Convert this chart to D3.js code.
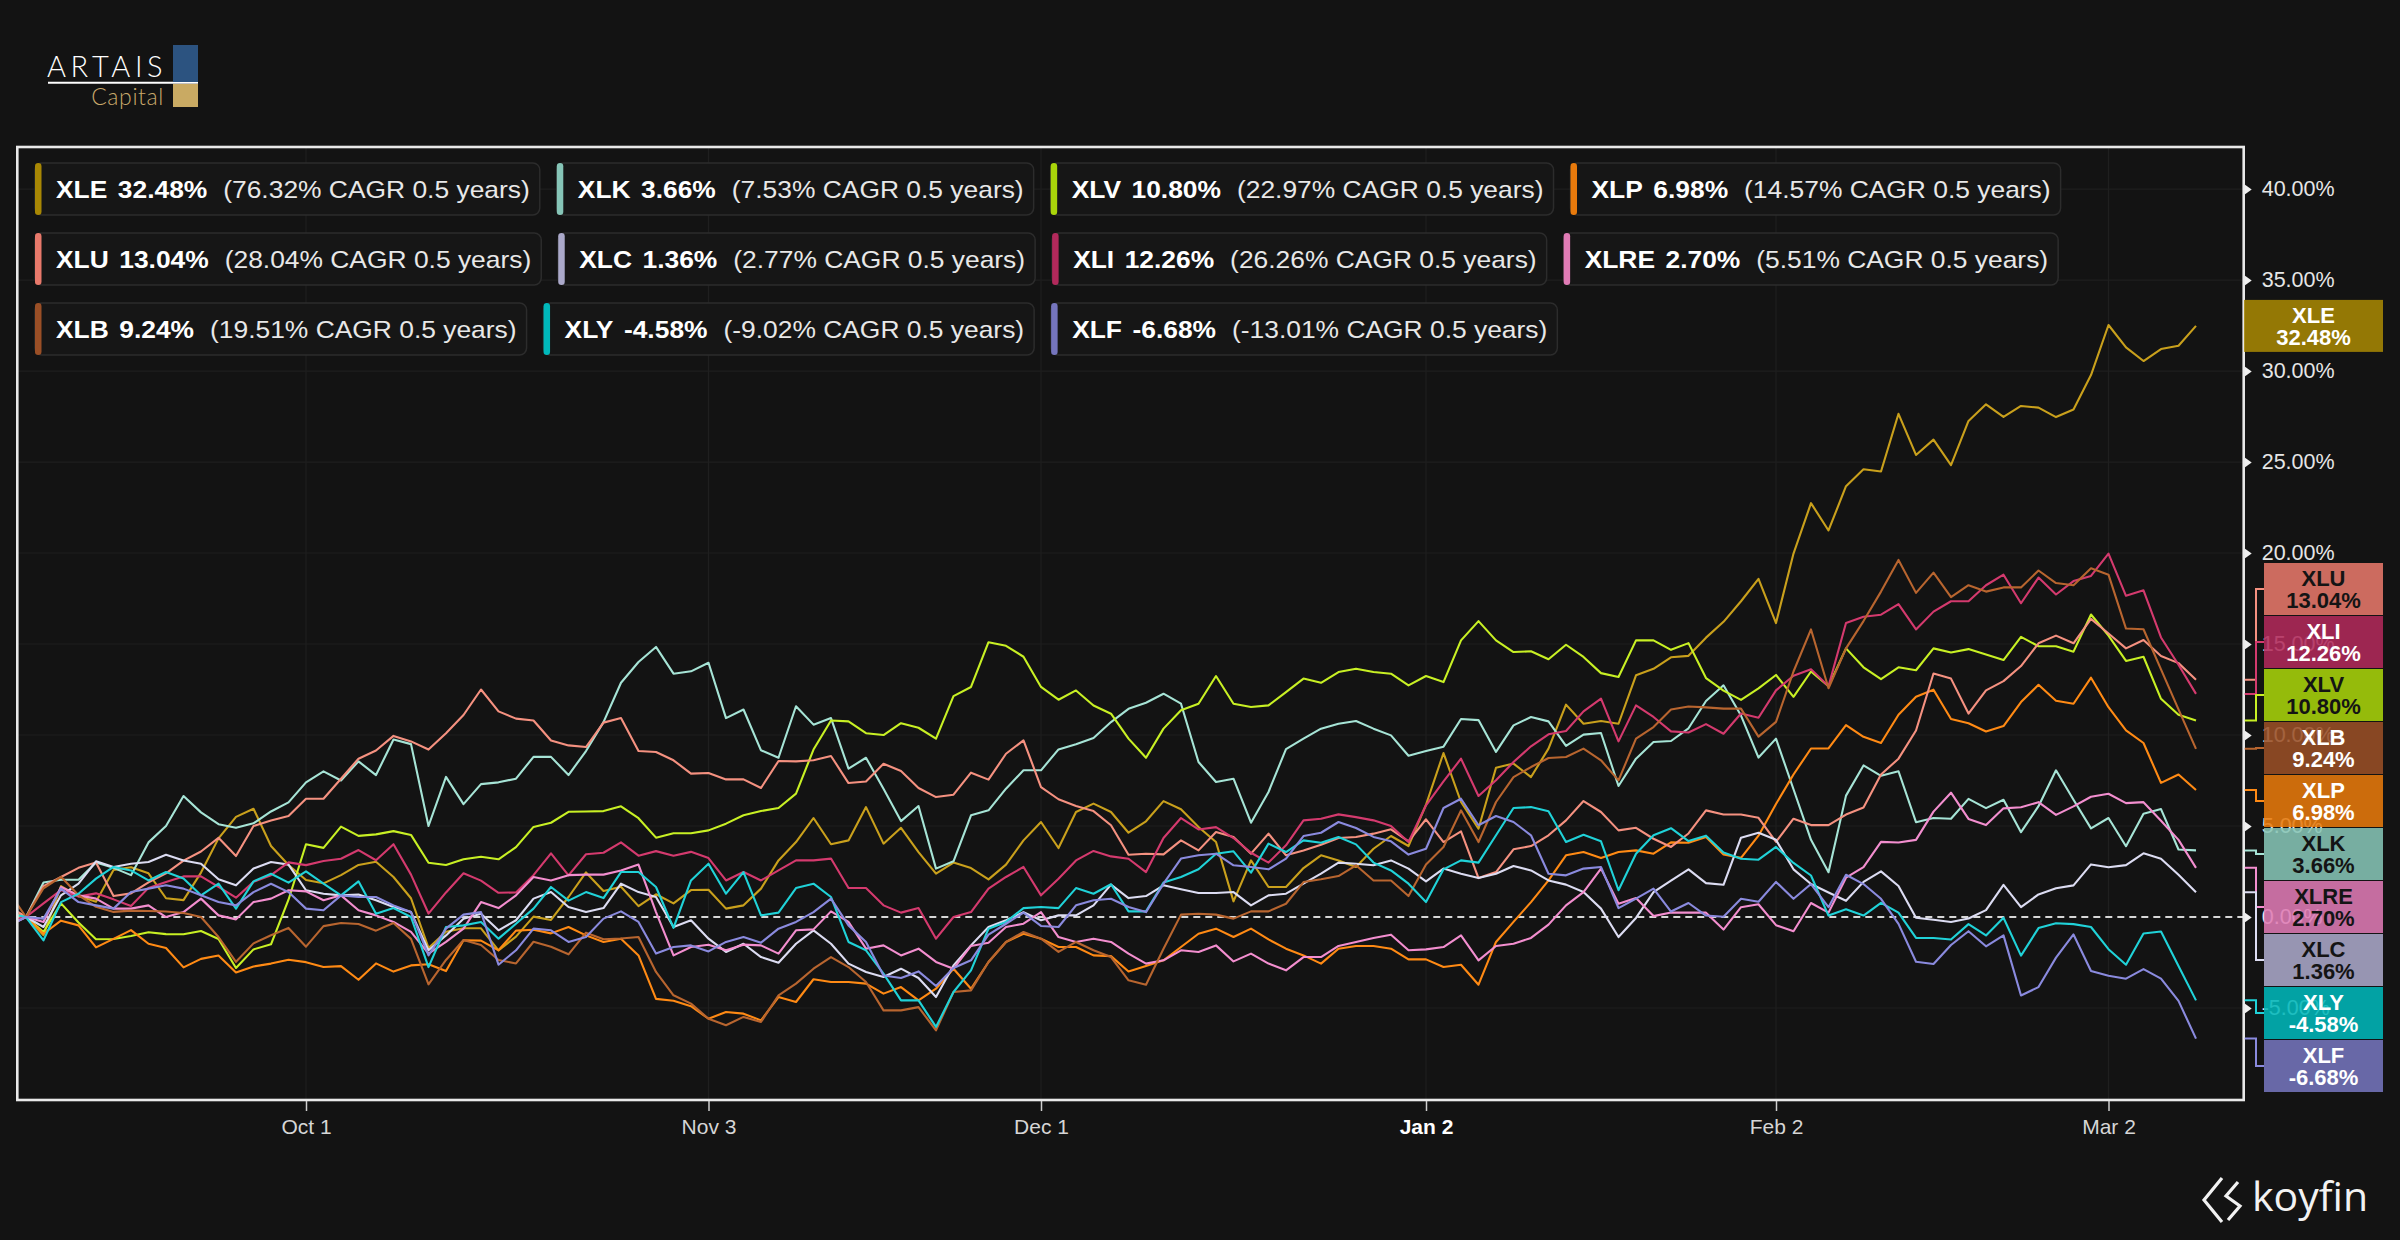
<!DOCTYPE html>
<html><head><meta charset="utf-8">
<script src="https://cdn.jsdelivr.net/npm/d3@7"></script>
<style>html,body{margin:0;padding:0;background:#131313;}svg{display:block;}</style>
</head><body>
<svg id="chart" width="2400" height="1240"></svg>
<script>
// ---------------- DATA ----------------
const tickers = ["XLE","XLK","XLV","XLP","XLU","XLC","XLI","XLRE","XLB","XLY","XLF"];
const totalReturn = [32.48, 3.66, 10.80, 6.98, 13.04, 1.36, 12.26, 2.70, 9.24, -4.58, -6.68];
const cagr = [76.32, 7.53, 22.97, 14.57, 28.04, 2.77, 26.26, 5.51, 19.51, -9.02, -13.01];
const periodYears = 0.5;
const xTickLabels = ["Oct 1","Nov 3","Dec 1","Jan 2","Feb 2","Mar 2"];
const xTickIndex = [17, 40, 59, 81, 101, 120];
const yTickValues = [-5, 0, 5, 10, 15, 20, 25, 30, 35, 40];

const XLE = [0.3,0,-1.0,1.7,1.15,0.84,2.58,2.73,2.4,1.03,
0.93,2.44,4.32,5.5,5.95,3.9,2.86,2.03,1.85,2.3,
2.86,3.04,2.2,1.03,-1.7,-0.81,-0.62,-0.62,-1.83,-1.08,
0.02,-0.16,1.1,2.45,1.43,1.66,0.6,1.25,0.75,1.48,
1.5,0.46,0.64,1.56,3.11,4.12,5.44,4.0,4.21,6.04,
4.03,4.9,3.57,2.38,2.99,2.69,2.07,2.88,4.21,5.22,
3.79,5.77,6.23,5.77,4.63,5.26,6.37,5.92,4.95,4.12,
0.86,3.11,1.65,1.65,2.69,3.39,3.11,2.75,3.75,4.45,
3.9,6.17,9.01,6.32,4.85,8.2,8.43,7.69,9.25,11.67,
10.62,10.77,10.62,13.28,13.64,14.27,14.35,15.35,16.22,17.35,
18.58,16.15,19.97,22.74,21.24,23.67,24.6,24.48,27.65,25.39,
26.23,24.83,27.26,28.17,27.48,28.08,27.99,27.47,27.89,29.78,
32.53,31.3,30.55,31.21,31.39,32.48];
const XLK = [0.2,0,1.9,2.05,2.05,3.0,2.7,2.3,4.1,5.0,
6.65,5.75,5.1,4.9,5.15,5.8,6.3,7.4,8.0,7.5,
8.55,7.8,9.75,9.5,5.0,7.7,6.2,7.3,7.4,7.6,
8.8,8.8,7.8,9.12,10.71,12.87,14.01,14.84,13.37,13.5,
13.97,10.93,11.4,9.16,8.75,11.58,10.57,10.93,8.15,8.75,
7.05,5.27,6.1,2.66,3.06,5.59,5.86,7.05,8.06,8.06,
9.21,9.49,9.84,10.71,11.44,11.77,12.27,11.72,8.52,7.42,
7.6,5.18,6.87,9.23,9.8,10.35,10.62,10.77,10.35,9.98,
8.86,9.12,9.36,10.88,10.82,9.07,10.53,10.99,10.75,9.4,
10.02,10.11,7.2,8.7,9.62,9.67,10.37,11.87,12.73,11.07,
8.76,9.8,7.02,4.24,2.46,6.67,8.33,7.76,8.01,5.21,
5.44,5.4,6.49,5.98,6.44,4.66,6.09,8.06,6.44,4.87,
5.44,3.89,5.67,5.93,3.71,3.66];
const XLV = [0.1,0,-0.82,0.75,-0.3,-1.22,-1.21,-1.04,-0.84,-0.94,
-0.95,-0.77,-1.21,-2.8,-1.78,-1.5,0.95,4.0,3.8,4.97,
4.46,4.54,4.72,4.51,2.98,2.86,3.17,3.31,3.17,3.84,
4.95,5.18,5.78,5.8,5.82,6.08,5.43,4.36,4.6,4.6,
4.76,5.13,5.59,5.82,5.99,6.78,9.2,10.8,10.75,10.1,
10.0,10.65,10.4,9.8,12.14,12.64,15.1,14.9,14.3,12.64,
11.94,12.45,11.62,11.17,9.8,8.75,10.35,11.36,11.72,13.24,
11.72,11.54,11.63,12.36,13.1,12.87,13.46,13.64,13.46,13.37,
12.73,13.24,12.91,15.2,16.26,15.2,14.56,14.6,14.16,14.96,
14.29,13.4,13.19,15.2,15.2,14.68,15.05,13.13,12.44,11.93,
12.56,13.3,12.1,13.49,12.68,14.76,13.72,13.07,13.72,13.56,
14.76,14.53,14.72,14.42,14.12,15.39,14.88,14.88,14.58,16.62,
15.46,14.07,14.3,11.99,11.11,10.8];
const XLP = [0.3,0,-0.92,-0.2,-0.46,-1.67,-1.2,-0.72,-1.47,-1.7,
-2.77,-2.3,-2.12,-3.05,-2.72,-2.56,-2.35,-2.48,-2.75,-2.7,
-3.45,-2.55,-3.0,-2.66,-2.6,-2.97,-1.28,-1.3,-1.83,-0.75,
-0.7,-0.9,-0.55,-1.01,-1.37,-1.19,-2.11,-4.5,-4.6,-4.9,
-5.59,-5.22,-5.31,-5.68,-4.4,-4.67,-3.42,-3.57,-3.57,-3.66,
-4.21,-3.85,-4.58,-3.94,-2.84,-3.94,-2.47,-1.37,-0.92,-1.19,
-1.65,-1.65,-2.11,-2.15,-2.99,-2.69,-2.38,-1.65,-0.92,-0.64,
-1.1,-0.64,-1.23,-1.74,-2.11,-2.56,-1.74,-1.59,-1.59,-1.74,
-2.33,-2.33,-2.75,-2.62,-3.72,-1.37,-0.27,0.82,2.01,3.39,
3.57,3.24,3.57,3.66,3.48,4.1,4.08,4.4,3.43,3.25,
4.47,6.21,7.83,9.26,9.26,10.55,9.9,9.56,11.11,12.1,
12.49,10.88,10.65,10.19,10.49,11.81,12.76,11.88,11.72,13.15,
11.53,10.26,9.56,7.37,7.83,6.98];
const XLU = [0.6,0,1.7,2.2,2.7,3.0,1.15,1.3,1.9,2.4,
3.1,3.6,4.35,3.35,5.0,5.3,5.55,6.5,6.5,7.6,
8.7,9.15,9.95,9.65,9.2,10.1,11.1,12.5,11.3,10.9,
10.8,9.7,9.43,9.34,10.68,10.93,9.12,9.07,8.61,7.88,
7.91,7.56,7.56,7.09,8.57,8.55,8.61,8.85,7.36,7.45,
8.42,8.02,7.09,6.59,6.72,7.93,7.55,8.97,9.71,7.14,
6.47,6.1,5.82,5.04,3.42,3.48,3.44,4.21,3.66,4.67,
4.4,3.48,4.58,3.39,3.66,3.97,4.34,4.4,4.58,4.82,
4.16,5.37,4.12,4.71,2.14,2.47,3.72,3.9,4.49,5.31,
6.37,5.77,4.76,4.9,4.3,3.85,4.59,5.86,5.63,5.63,
5.45,4.13,5.4,5.05,5.05,5.63,6.02,7.83,8.7,10.25,
13.38,13.1,11.18,12.45,12.96,13.79,15.04,15.46,15.04,16.38,
15.58,14.76,15.22,14.34,13.95,13.04];
const XLC = [-0.4,0,-0.55,1.19,1.83,3.06,2.75,2.93,3.02,3.42,
3.11,2.93,2.07,1.74,2.66,3.02,2.88,1.47,1.28,1.19,
1.23,0.92,0.55,0.27,-1.83,-1.01,-0.09,0.18,-0.73,-0.18,
1.01,1.37,0.55,0.27,0.49,1.83,1.37,1.1,-0.55,-0.18,
-1.19,-1.92,-1.47,-2.2,-2.51,-1.47,-0.73,-1.47,-2.56,-3.02,
-3.3,-2.84,-3.35,-4.4,-2.66,-1.56,-0.55,-0.18,0.27,-0.18,
0.09,0.09,0.64,1.78,1.04,1.15,1.74,1.52,1.32,1.32,
1.37,0.64,1.19,1.28,1.83,2.38,2.99,2.93,2.84,3.11,
2.66,1.96,2.66,2.38,2.14,2.38,2.8,2.56,2.01,1.78,
1.37,0.46,-1.1,-0.05,1.37,2.0,2.62,1.86,1.77,4.36,
4.63,4.24,2.62,1.81,1.35,0.89,1.93,2.51,1.7,-0.04,
-0.15,-0.27,-0.08,0.38,1.77,0.54,1.24,1.58,1.74,2.89,
2.73,2.85,3.5,3.2,2.32,1.36];
const XLI = [-0.2,0,0.75,1.48,1.12,1.3,0.97,0.6,1.6,1.93,
2.23,2.23,1.66,1.06,1.93,2.3,3.0,2.85,3.08,3.2,
3.68,3.12,4.0,2.33,0.19,1.35,2.4,2.0,1.33,1.35,
2.3,3.5,2.29,3.45,3.53,4.1,3.37,3.62,3.37,3.58,
3.24,2.01,2.47,2.01,2.56,3.11,3.11,3.21,1.59,1.59,
0.64,0.24,0.49,-1.19,0,0.27,1.56,2.2,2.75,1.19,
2.1,3.11,3.63,3.33,3.2,2.47,4.34,5.44,4.81,4.94,
4.34,3.53,2.99,3.94,5.31,5.4,5.64,5.49,5.31,5.0,
4.12,6.14,7.45,8.7,6.65,7.51,8.52,9.38,10.04,10.22,
11.3,12.0,9.65,11.63,10.99,10.2,10.14,10.6,10.07,11.18,
10.95,12.45,13.26,13.61,12.68,16.15,16.5,16.61,17.19,15.8,
16.78,17.35,17.35,18.23,18.81,17.24,18.65,17.72,18.46,18.74,
19.97,17.65,17.95,15.36,13.86,12.26];
const XLRE = [-0.5,0,-0.27,1.65,1.19,1.01,0.46,0.46,0.64,0,
0.27,1.01,0.09,-0.13,0.82,1.01,1.47,1.41,0.92,1.19,
0.37,0.09,-0.27,-0.82,-2.01,-1.37,-0.64,0.82,0.49,1.19,
2.2,2.01,2.3,2.33,2.33,2.56,2.88,0.27,-2.11,-1.65,
-1.52,-1.83,-1.52,-1.56,-2.01,-0.73,-0.68,0.31,-0.27,-1.74,
-1.56,-2.11,-1.74,-2.47,-2.84,-1.59,-1.41,-0.55,-0.37,0.27,
-1.1,-1.37,-1.19,-1.37,-2.01,-2.56,-2.38,-1.83,-1.92,-1.56,
-2.44,-2.01,-2.56,-2.93,-2.2,-2.2,-1.59,-1.37,-1.15,-0.97,
-1.83,-1.78,-1.65,-1.01,-2.38,-1.59,-1.47,-1.15,-0.42,0.64,
1.37,2.66,0.73,1.04,0.05,0.25,0.24,0.24,-0.69,0.54,
0.7,-0.45,-0.78,0.77,0.24,2.16,2.74,4.13,4.09,4.24,
5.79,6.83,5.39,5.05,5.97,6.03,6.31,5.61,6.08,6.61,
6.77,6.26,6.31,5.29,4.24,2.7];
const XLB = [1.4,0,1.58,2.21,1.2,0.56,0.28,0.35,0.33,0.3,
0.22,0.0,-1.1,-2.46,-1.45,-1.0,-0.6,-1.63,-0.5,-0.33,
-0.38,-0.75,-0.33,-1.2,-3.7,-2.36,-1.26,-1.54,-2.36,-2.55,
-1.36,-1.63,-2.05,-0.86,-1.22,-1.18,-1.1,-3.02,-4.3,-4.76,
-5.59,-5.95,-5.49,-5.77,-4.3,-3.66,-2.84,-2.2,-2.75,-3.57,
-5.13,-5.13,-4.95,-6.23,-4.12,-4.03,-2.47,-1.37,-0.82,-1.19,
-1.92,-1.37,-1.83,-2.2,-3.48,-3.72,-1.74,0.13,0.18,0.13,
-0.09,0.31,0.31,0.73,1.92,2.07,2.25,2.84,2.01,2.01,
1.15,2.88,3.85,5.86,4.12,6.32,7.69,8.24,8.74,8.79,
9.25,8.61,7.51,9.8,10.44,11.4,11.57,11.52,11.45,11.45,
9.91,10.72,13.49,15.8,12.57,14.76,16.26,17.88,19.62,17.81,
18.92,17.58,18.23,17.88,18.11,18.11,19.04,18.35,18.23,19.16,
18.81,15.85,15.81,13.61,11.41,9.24];
const XLY = [0.2,0,-1.28,0.82,1.28,2.11,2.75,2.56,2.01,2.47,
2.11,1.19,1.83,0.46,1.96,2.38,1.89,2.51,1.83,1.19,
1.96,0.18,0.49,0,-2.75,-0.55,-0.46,-0.27,-1.19,-0.37,
0.46,1.65,0.9,1.37,1.04,2.47,2.47,1.65,-0.6,2.01,
2.93,1.28,2.47,0.09,0.24,1.59,1.83,1.1,-1.37,-1.83,
-3.11,-4.58,-4.58,-6.04,-4.12,-2.93,-0.64,-0.27,0.49,0.55,
0.49,1.59,1.28,1.8,0.31,0.31,1.89,2.2,2.62,3.48,
3.61,2.44,4.03,3.57,4.21,4.08,4.4,3.99,2.99,2.56,
1.83,0.82,2.62,3.11,2.99,4.49,5.99,6.04,5.81,4.12,
4.52,4.16,1.47,3.48,4.49,4.88,4.17,4.47,3.54,3.2,
3.15,3.85,2.97,2.28,0.08,0.43,0.08,0.78,0.24,-1.15,
-1.15,-1.24,-0.39,-1.01,-0.04,-2.12,-0.61,-0.34,-0.39,-0.55,
-1.77,-2.62,-0.91,-0.8,-2.69,-4.58];
const XLF = [-0.5,0,-0.09,1.56,0.82,0.64,0.46,1.37,1.56,1.74,
1.56,1.19,0.82,0.64,1.37,1.83,1.37,0.46,0.37,1.19,
1.1,1.1,0.64,0.27,-2.11,-0.64,0.13,0.27,-2.62,-1.83,
-0.64,-0.73,-1.37,-1.1,-0.09,0.31,-0.27,-2.01,-1.65,-1.56,
-1.89,-1.37,-1.1,-1.41,-0.64,-0.27,0.27,1.01,-0.46,-1.37,
-3.21,-3.35,-2.99,-3.79,-2.8,-2.38,-0.97,-0.37,0.24,-0.49,
-0.55,0.64,0.92,1.0,0.55,0.27,1.83,3.21,3.39,3.48,
2.84,2.75,2.62,3.21,4.45,4.63,5.22,4.89,4.4,4.16,
3.43,3.75,5.99,6.5,5.04,5.55,5.22,4.49,2.38,2.29,
2.66,2.75,0.49,1.01,1.56,0.3,0.77,0.08,0.01,1.0,
0.84,1.93,1.0,1.81,0.54,2.32,1.81,1.0,-0.38,-2.46,
-2.58,-1.54,-0.78,-1.61,-1.01,-4.31,-3.85,-2.23,-0.96,-2.97,
-3.23,-3.39,-2.86,-3.39,-4.61,-6.68];

const seriesValues = {XLE, XLK, XLV, XLP, XLU, XLC, XLI, XLRE, XLB, XLY, XLF};

// ---------------- STYLE ----------------
const lineColor = {XLE:"#c9a01c",XLK:"#a6e4d6",XLV:"#c8f024",XLP:"#ff8a14",XLU:"#f59180",
  XLC:"#dcdcf2",XLI:"#d43a6e",XLRE:"#f38ecf",XLB:"#b8652f",XLY:"#20d2d8",XLF:"#8a8ade"};
const boxColor = {XLE:"#a88704",XLK:"#86c5b7",XLV:"#a9d50a",XLP:"#e87a0c",XLU:"#e8796b",
  XLC:"#aba9ca",XLI:"#b2295b",XLRE:"#e07bb5",XLB:"#9a4f26",XLY:"#00b8ba",XLF:"#7575bd"};
const darkText = new Set(["XLU","XLV","XLK","XLRE","XLC"]);
const FONT = "'Liberation Sans', Arial, Helvetica, sans-serif";

const svg = d3.select("#chart");
svg.append("rect").attr("width",2400).attr("height",1240).attr("fill","#131313");

const plot = {left:17.3, right:2243.7, top:147, bottom:1100};
const nPts = XLE.length;
const x = d3.scaleLinear().domain([0, nPts-1]).range([8.5, 2196]);
const y = d3.scaleLinear().domain([-10, 42.31]).range([1099, 147]);

// grid
const grid = svg.append("g");
grid.selectAll("line.h").data(yTickValues.filter(v=>v!==0)).join("line")
  .attr("x1",plot.left).attr("x2",plot.right).attr("y1",d=>y(d)).attr("y2",d=>y(d))
  .attr("stroke","#1f1f1f").attr("stroke-width",1.2);
grid.selectAll("line.v").data(xTickIndex).join("line")
  .attr("x1",d=>x(d)).attr("x2",d=>x(d)).attr("y1",plot.top).attr("y2",plot.bottom)
  .attr("stroke","#1f1f1f").attr("stroke-width",1.2);

// clip
svg.append("clipPath").attr("id","plotclip").append("rect")
  .attr("x",plot.left+1).attr("y",plot.top+1).attr("width",plot.right-plot.left-2).attr("height",plot.bottom-plot.top-2);

// zero line
svg.append("line").attr("x1",plot.left).attr("x2",plot.right).attr("y1",y(0)).attr("y2",y(0))
  .attr("stroke","#d6d6d6").attr("stroke-width",2).attr("stroke-dasharray","7,5");

// lines
const line = d3.line().x((d,i)=>x(i)).y(d=>y(d));
const lines = svg.append("g").attr("clip-path","url(#plotclip)");
tickers.forEach(t=>{
  lines.append("path").datum(seriesValues[t]).attr("d",line)
    .attr("fill","none").attr("stroke",lineColor[t]).attr("stroke-width",2.1)
    .attr("stroke-linejoin","round");
});

// frame
svg.append("rect").attr("x",plot.left).attr("y",plot.top)
  .attr("width",plot.right-plot.left).attr("height",plot.bottom-plot.top)
  .attr("fill","none").attr("stroke","#e9e9e9").attr("stroke-width",2.6);

// right axis
const yAxis = d3.axisRight(y).tickValues(yTickValues).tickFormat(d=>d.toFixed(2)+"%").tickSize(0).tickPadding(18);
const ya = svg.append("g").attr("transform",`translate(${plot.right},0)`).call(yAxis);
ya.select(".domain").remove();
ya.selectAll(".tick text").attr("fill","#e6e6e6").style("font-family",FONT).style("font-size","21.5px");
ya.selectAll(".tick").append("path").attr("d","M1,-5 L8,0 L1,5 Z").attr("fill","#f0f0f0");

// bottom axis
const xAxis = d3.axisBottom(x).tickValues(xTickIndex).tickFormat((d,i)=>xTickLabels[i]).tickSize(10).tickPadding(8);
const xa = svg.append("g").attr("transform",`translate(0,${plot.bottom+1})`).call(xAxis);
xa.select(".domain").remove();
xa.selectAll(".tick line").attr("stroke","#cfcfcf").attr("stroke-width",1.5);
xa.selectAll(".tick text").attr("fill","#d6d6d6").style("font-family",FONT).style("font-size","21px")
  .style("font-weight",(d,i)=>xTickLabels[i].startsWith("Jan")?"bold":"normal")
  .attr("fill",(d,i)=>xTickLabels[i].startsWith("Jan")?"#ffffff":"#d6d6d6");

// value label boxes on the right
const boxH = 52, boxGap = 1, boxBottom = 1092;
const items = tickers.map((t,k)=>({t, v: totalReturn[k], yv: y(totalReturn[k])}))
  .sort((a,b)=>a.yv-b.yv);
items.forEach(d=>d.c=d.yv);
for (let k=1;k<items.length;k++){
  const p=items[k-1];
  if (items[k].c < p.c + boxH + boxGap) items[k].c = p.c + boxH + boxGap;
}
const lastItem = items[items.length-1];
if (lastItem.c + boxH/2 > boxBottom) lastItem.c = boxBottom - boxH/2;
for (let k=items.length-2;k>=0;k--){
  if (items[k].c > items[k+1].c - boxH - boxGap) items[k].c = items[k+1].c - boxH - boxGap;
}
const lab = svg.append("g");
items.forEach(d=>{
  const moved = Math.abs(d.c - d.yv) > 0.5;
  const bx = moved ? 2264 : 2244, bw = moved ? 119 : 139;
  if (moved){
    lab.append("path").attr("d",`M${plot.right+1},${d.yv} H2256 V${d.c} H${bx}`)
      .attr("fill","none").attr("stroke",lineColor[d.t]).attr("stroke-width",2);
  }
  lab.append("rect").attr("x",bx).attr("y",d.c-boxH/2).attr("width",bw).attr("height",boxH)
    .attr("fill",boxColor[d.t]).attr("fill-opacity",0.87);
  const tc = darkText.has(d.t) ? "#141414" : "#ffffff";
  const tx = lab.append("text").attr("x",bx+bw/2).attr("y",d.c).attr("text-anchor","middle")
    .attr("fill",tc).style("font-family",FONT).style("font-size","22px").style("font-weight","bold");
  tx.append("tspan").attr("x",bx+bw/2).attr("dy","-0.15em").text(d.t);
  tx.append("tspan").attr("x",bx+bw/2).attr("dy","1.0em").text(d.v.toFixed(2)+"%");
});

// legend
const legend = svg.append("g");
let lx = 35;
tickers.forEach((t,k)=>{
  const row = Math.floor(k/4), col = k%4;
  if (col===0) lx = 35;
  const gy = 163 + row*70;
  const g = legend.append("g").attr("transform",`translate(${lx},${gy})`);
  const r = g.append("rect").attr("x",0).attr("y",0).attr("height",52).attr("rx",7)
    .attr("fill","#161616").attr("stroke","#2c2c2c").attr("stroke-width",1.5);
  g.append("rect").attr("x",0).attr("y",0).attr("width",6.5).attr("height",52).attr("rx",3.2)
    .attr("fill",boxColor[t]);
  const tg = g.append("g").attr("transform","translate(21,27) scale(1.1,1)");
  const tx = tg.append("text").attr("x",0).attr("y",0).attr("dy","0.35em")
    .style("font-family",FONT).style("font-size","24px");
  tx.append("tspan").attr("fill","#ffffff").style("font-weight","bold").text(t);
  tx.append("tspan").attr("dx",9.5).attr("fill","#ffffff").style("font-weight","bold").text(totalReturn[k].toFixed(2)+"%");
  tx.append("tspan").attr("dx",14.5).attr("fill","#e8e8e8").text(`(${cagr[k].toFixed(2)}% CAGR ${periodYears} years)`);
  const w = tx.node().getBBox().width * 1.1;
  const bw = 21 + w + 10;
  r.attr("width", bw);
  lx += bw + 17;
});

// ARTAIS Capital logo
const logo = svg.append("g");
logo.append("text").attr("x",47).attr("y",77).text("ARTAIS")
  .attr("fill","#ffffff").style("font-family","Lato, 'Open Sans', sans-serif").style("font-weight","300")
  .style("font-size","29px").style("letter-spacing","4.6px");
logo.append("line").attr("x1",48).attr("x2",198).attr("y1",82.8).attr("y2",82.8).attr("stroke","#ffffff").attr("stroke-width",2);
logo.append("text").attr("x",164).attr("y",105).attr("text-anchor","end").text("Capital")
  .attr("fill","#c9a96b").style("font-family","Lato, 'Open Sans', sans-serif").style("font-weight","300")
  .style("font-size","23px").style("letter-spacing","0.6px");
logo.append("rect").attr("x",173).attr("y",45).attr("width",25).attr("height",37).attr("fill","#2c5380");
logo.append("rect").attr("x",173).attr("y",84).attr("width",25).attr("height",23).attr("fill","#c9aa63");

// koyfin logo
const kf = svg.append("g");
kf.append("path").attr("d","M2222,1178 L2204,1200 L2222,1222")
  .attr("fill","none").attr("stroke","#f2f2f2").attr("stroke-width",3.2).attr("stroke-linejoin","miter");
kf.append("path").attr("d","M2238,1182 L2226,1196 L2240,1206 L2228,1220")
  .attr("fill","none").attr("stroke","#f2f2f2").attr("stroke-width",3.2).attr("stroke-linejoin","miter");
kf.append("text").attr("x",2252).attr("y",1211).text("koyfin")
  .attr("fill","#f2f2f2").style("font-family","'Open Sans', Roboto, sans-serif").style("font-size","41px");
</script>
</body></html>
